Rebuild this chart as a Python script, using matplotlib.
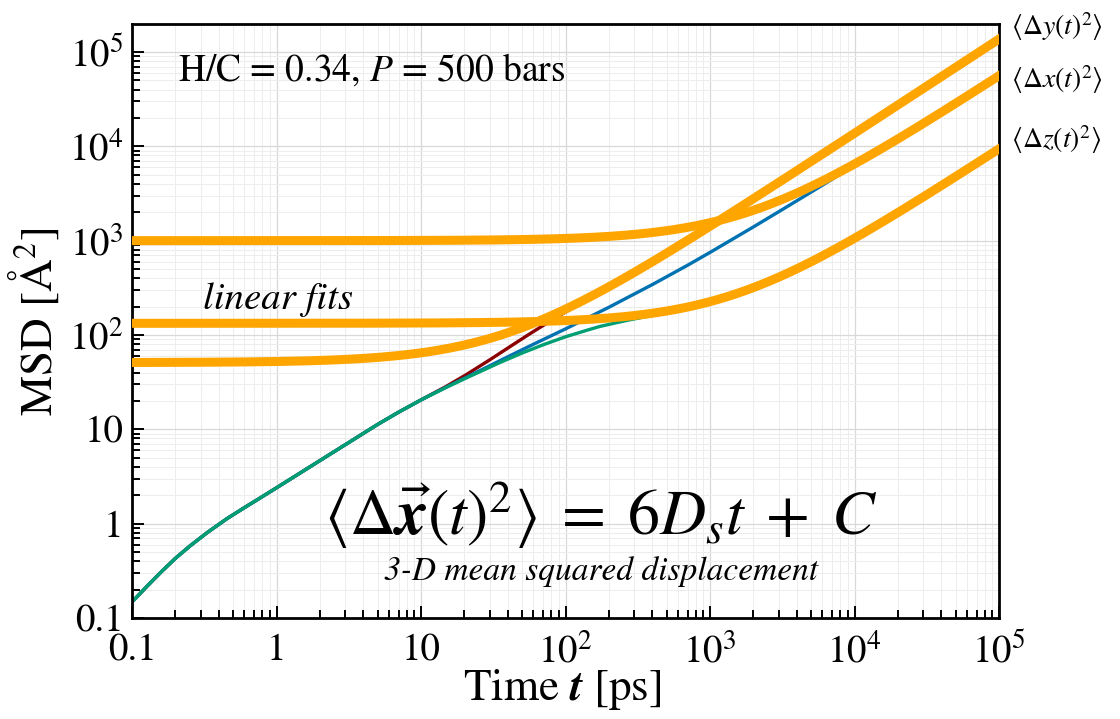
import numpy as np
import matplotlib
matplotlib.use("Agg")
import matplotlib.pyplot as plt
from matplotlib.ticker import FixedLocator, LogLocator, NullFormatter

plt.rcParams['font.family'] = ['STIXGeneral', 'DejaVu Serif']
plt.rcParams['mathtext.fontset'] = 'stix'

# ---------------- data ----------------
t_y = [0.1, 0.13, 0.16, 0.2, 0.25, 0.33, 0.45, 0.6, 0.8, 1, 1.5, 2, 3, 5, 7, 10,
       15, 20.7, 30, 45, 59.5, 80, 100, 130, 172, 200]
msd_y = [0.148, 0.225, 0.31, 0.43, 0.575, 0.80, 1.12, 1.48, 1.94, 2.40, 3.54, 4.67, 6.89, 11.25, 15.2, 20.5,
         28.6, 38.2, 54.7, 82, 108, 143, 175, 222, 284, 324]

t_x = [0.1, 0.13, 0.16, 0.2, 0.25, 0.33, 0.45, 0.6, 0.8, 1, 1.5, 2, 3, 5, 7, 10,
       15, 20, 30, 40, 60, 100, 200, 400, 700, 1000, 2000, 3200, 5000, 7000, 10000, 12000]
msd_x = [0.148, 0.225, 0.31, 0.43, 0.575, 0.80, 1.12, 1.48, 1.94, 2.40, 3.54, 4.67, 6.89, 11.25, 15.2, 20.5,
         28.1, 34.8, 47.3, 58.9, 79.8, 116, 197, 343, 549, 750, 1400, 2158, 3266, 4477, 6281, 7482]

t_z = [0.1, 0.13, 0.16, 0.2, 0.25, 0.33, 0.45, 0.6, 0.8, 1, 1.5, 2, 3, 5, 7, 10,
       15, 20.7, 35, 50, 70, 100, 140, 172, 230, 279, 350, 450]
msd_z = [0.148, 0.225, 0.31, 0.43, 0.575, 0.80, 1.12, 1.48, 1.94, 2.40, 3.54, 4.67, 6.89, 11.25, 15.2, 20.5,
         27.9, 35.2, 50.9, 64.3, 78.7, 95.7, 112, 123, 136, 145, 155, 167]

# linear fits  MSD = slope * t + C  (per direction)
fit_names = ['y', 'x', 'z']
fit_slope = [1.37, 0.55, 0.0927]
fit_const = [51, 1000, 133]

x_ticks = [0.1, 1, 10, 1e2, 1e3, 1e4, 1e5]
x_ticklabels = ['0.1', '1', '10', r'$10^2$', r'$10^3$', r'$10^4$', r'$10^5$']
y_ticks = [0.1, 1, 10, 1e2, 1e3, 1e4, 1e5]
y_ticklabels = ['0.1', '1', '10', r'$10^2$', r'$10^3$', r'$10^4$', r'$10^5$']

# ---------------- figure ----------------
W, H = 1120, 719
fig = plt.figure(figsize=(W / 100, H / 100), dpi=100)
ax = fig.add_axes([132 / W, 1 - 618 / H, 867 / W, 594 / H])

ax.set_xscale('log')
ax.set_yscale('log')
ax.set_xlim(0.1, 1e5)
ax.set_ylim(0.1, 1.98e5)

ax.set_axisbelow(True)
ax.grid(True, which='major', color='#d8d8d8', lw=0.9)
ax.grid(True, which='minor', color='#ededed', lw=0.7)

ax.plot(t_y, msd_y, color='#8b0000', lw=2.4, zorder=2)
ax.plot(t_x, msd_x, color='#0072b2', lw=2.4, zorder=2)
ax.plot(t_z, msd_z, color='#009e73', lw=2.4, zorder=2.1)

t_fit = np.logspace(-1, 5, 500)
for s, c in zip(fit_slope, fit_const):
    ax.plot(t_fit, s * t_fit + c, color='#ffa500', lw=6.5, zorder=3)

ax.xaxis.set_major_locator(FixedLocator(x_ticks))
ax.set_xticklabels(x_ticklabels)
ax.yaxis.set_major_locator(FixedLocator(y_ticks))
ax.set_yticklabels(y_ticklabels)
ax.xaxis.set_minor_locator(LogLocator(base=10, subs=np.arange(2, 10), numticks=20))
ax.yaxis.set_minor_locator(LogLocator(base=10, subs=np.arange(2, 10), numticks=20))
ax.xaxis.set_minor_formatter(NullFormatter())
ax.yaxis.set_minor_formatter(NullFormatter())

ax.tick_params(which='both', direction='in', top=False, right=False,
               width=1.4, labelsize=28)
ax.tick_params(axis='x', which='both', pad=11)
ax.tick_params(axis='y', which='both', pad=6)
ax.tick_params(which='major', length=8.5)
ax.tick_params(which='minor', length=5.5)
for sp in ax.spines.values():
    sp.set_linewidth(2.0)

ax.set_xlabel(r'Time $\boldsymbol{t}$ [ps]', fontsize=32.5)
ax.xaxis.label.set_verticalalignment('center')
ax.xaxis.set_label_coords(0.496, -0.121)
ax.set_ylabel(r'MSD [Å$^2$]', fontsize=32.5)
ax.yaxis.label.set_verticalalignment('center')
ax.yaxis.set_label_coords(-0.113, (618 - 322) / 594)

ax.text((178 - 132) / 867, (618 - 70) / 594, r'H/C = 0.34, $P$ = 500 bars',
        transform=ax.transAxes, fontsize=27, ha='left', va='center')
ax.text((203 - 132) / 867, (618 - 300) / 594, 'linear fits', style='italic',
        transform=ax.transAxes, fontsize=28, ha='left', va='center')
ax.text((601 - 132) / 867, (618 - 535) / 594,
        r'$\langle \Delta \vec{\boldsymbol{x}}(t)^2 \rangle \;=\; 6D_s t \;+\; C$',
        transform=ax.transAxes, fontsize=46, ha='center', va='baseline')
ax.text((601 - 132) / 867, (618 - 580) / 594, '3-D mean squared displacement', style='italic',
        transform=ax.transAxes, fontsize=24, ha='center', va='baseline')

for lab, ypx in zip([r'$\langle \Delta y(t)^2 \rangle$', r'$\langle \Delta x(t)^2 \rangle$',
                     r'$\langle \Delta z(t)^2 \rangle$'], [27, 80, 140]):
    fig.text(1011 / W, 1 - ypx / H, lab, fontsize=20, ha='left', va='center')

fig.savefig('out.png', dpi=100)
